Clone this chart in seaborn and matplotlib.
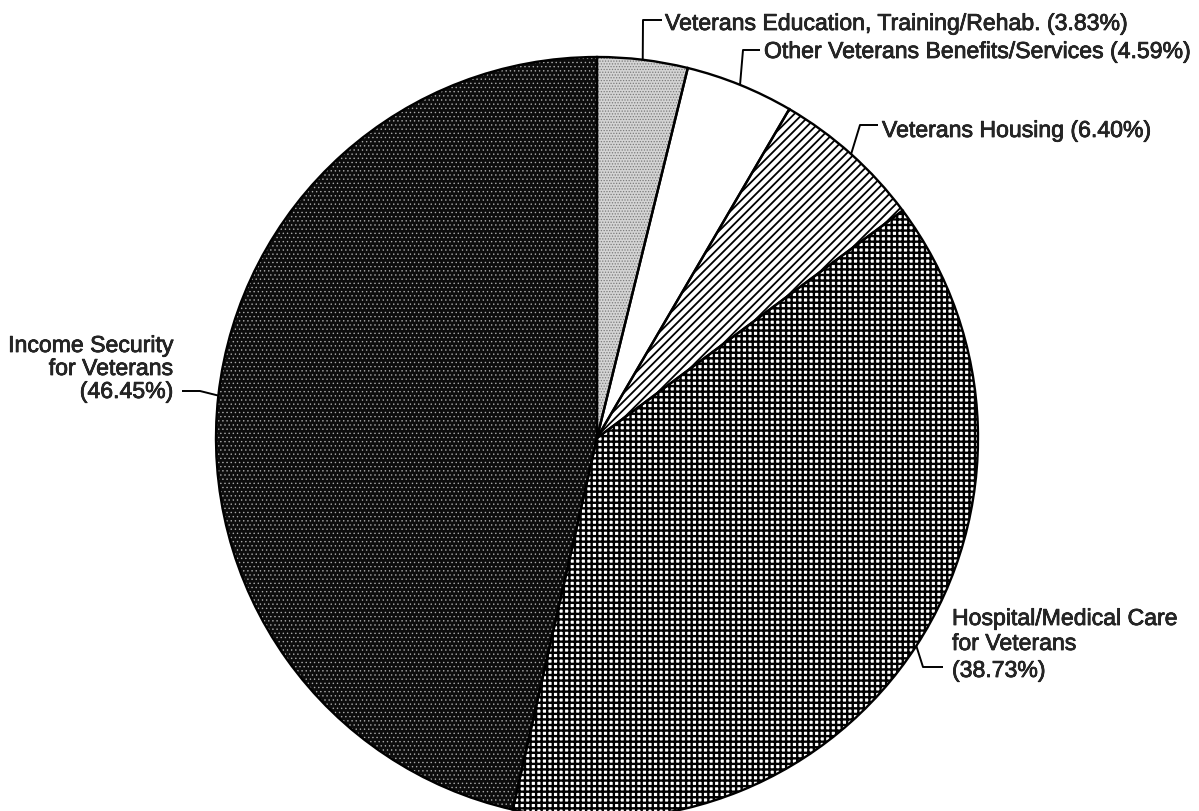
import numpy as np
import matplotlib
matplotlib.use("Agg")
import matplotlib.pyplot as plt
import matplotlib.patheffects as pe
import seaborn as sns

# Spending shares by function (percent of total)
categories = [
    "Veterans Education, Training/Rehab.",
    "Other Veterans Benefits/Services",
    "Veterans Housing",
    "Hospital/Medical Care for Veterans",
    "Income Security for Veterans",
]
shares = [3.83, 4.59, 6.40, 38.73, 46.45]

sns.set_style("white")
plt.rcParams["font.family"] = ["Liberation Sans", "DejaVu Sans"]

W, H = 1199, 811
fig = plt.figure(figsize=(W / 100, H / 100), dpi=100)
ax = fig.add_axes([0, 0, 1, 1])

center = (597, 438)
radius = 381

# fill textures: (face, hatch, hatch colour, hatch width)
fills = [
    ("#d4d4d4", "......", "#7a7a7a", 0.6),
    ("white", None, "black", 1.0),
    ("white", "////", "black", 1.3),
    ("white", "+++", "black", 1.7),
    ("#0c0c0c", "....", "#a8a8a8", 0.5),
]

wedges, _ = ax.pie(shares, center=center, radius=radius, startangle=-90,
                   counterclock=True, frame=True,
                   wedgeprops=dict(linewidth=0))
for w, (fc, hatch, hc, hlw) in zip(wedges, fills):
    w.set_facecolor(fc)
    w.set_edgecolor(hc)
    w.set_linewidth(0)
    if hatch:
        w.set_hatch(hatch)
        if hasattr(w, "set_hatch_linewidth"):
            w.set_hatch_linewidth(hlw)

ax.pie(shares, center=center, radius=radius, startangle=-90,
       counterclock=True, frame=True,
       wedgeprops=dict(fill=False, edgecolor="black", linewidth=1.7))
ax.set_xlim(0, W)
ax.set_ylim(H, 0)
ax.set_aspect("equal")
ax.axis("off")

fs = 16.6
stroke = [pe.withStroke(linewidth=0.5, foreground="black")]

def mid_point(w):
    th = np.deg2rad((w.theta1 + w.theta2) / 2)
    return center[0] + radius * np.cos(th), center[1] + radius * np.sin(th)

# leader elbows for each slice label
leaders = [
    [(643, 20), (662, 20)],
    [(743, 50), (760, 50)],
    [(860, 125), (878, 125)],
    [(923, 667), (943, 667)],
    [(200, 391), (182, 391)],
]
for w, pts in zip(wedges, leaders):
    sx, sy = mid_point(w)
    xs = [sx] + [p[0] for p in pts]
    ys = [sy] + [p[1] for p in pts]
    ax.plot(xs, ys, color="black", linewidth=1.4, solid_capstyle="butt")

single = [(665, 30), (764, 58), (882, 137)]
for (x, y), name, v in zip(single, categories[:3], shares[:3]):
    ax.text(x, y, f"{name} ({v:.2f}%)", fontsize=fs, ha="left",
            va="baseline", path_effects=stroke)

hosp_lines = ["Hospital/Medical Care", "for Veterans", f"({shares[3]:.2f}%)"]
for txt, y in zip(hosp_lines, [625, 650, 677]):
    ax.text(952, y, txt, fontsize=fs, ha="left", va="baseline",
            path_effects=stroke)

inc_lines = ["Income Security", "for Veterans", f"({shares[4]:.2f}%)"]
for txt, y in zip(inc_lines, [352, 375, 398]):
    ax.text(173, y, txt, fontsize=fs, ha="right", va="baseline",
            path_effects=stroke)

fig.savefig("out.png", dpi=100, facecolor="white")
